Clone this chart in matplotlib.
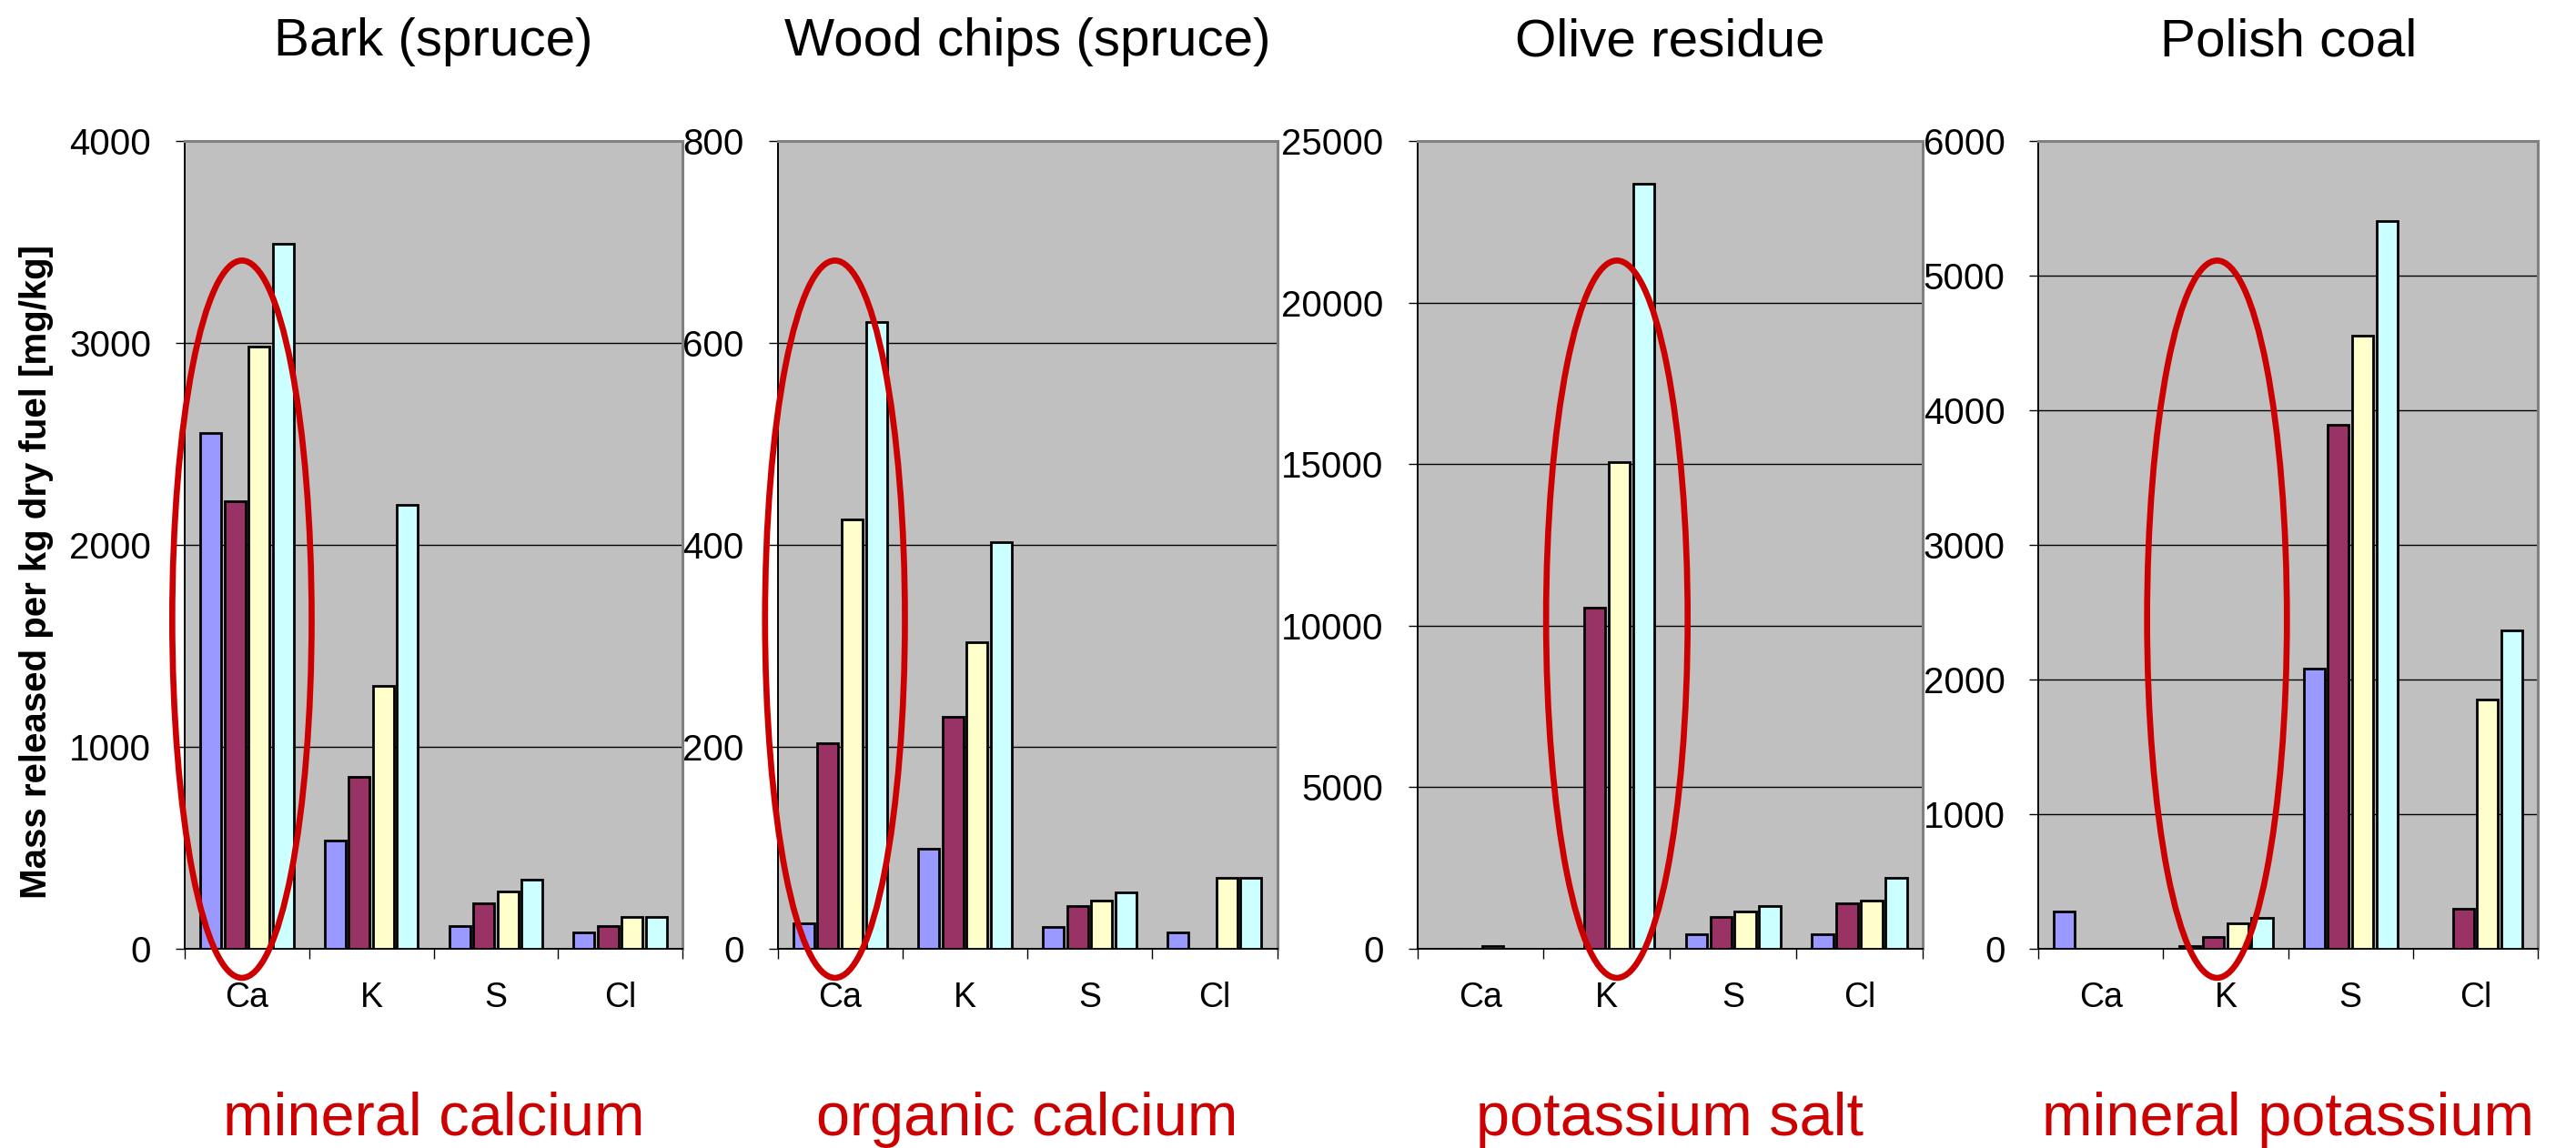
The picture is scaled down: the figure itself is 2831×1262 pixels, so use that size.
import numpy as np
import matplotlib.pyplot as plt
from matplotlib.patches import Ellipse

plt.rcParams['font.family'] = ['Liberation Sans', 'DejaVu Sans']

elements = ['Ca', 'K', 'S', 'Cl']
fuels = ['Bark (spruce)', 'Wood chips (spruce)', 'Olive residue', 'Polish coal']
notes = ['mineral calcium', 'organic calcium', 'potassium salt', 'mineral potassium']
y_max = [4000, 800, 25000, 6000]
y_step = [1000, 200, 5000, 1000]
circled = ['Ca', 'Ca', 'K', 'K']

# rows = the four series, columns = Ca, K, S, Cl  [mg/kg dry fuel]
bark = [[2554, 537, 112, 82],
        [2215, 851, 226, 112],
        [2980, 1304, 284, 156],
        [3490, 2196, 341, 156]]
wood_chips = [[25, 99, 22, 16],
              [204, 230, 42, 0],
              [425, 304, 48, 70],
              [621, 403, 56, 70]]
olive = [[0, 0, 443, 443],
         [0, 10556, 972, 1415],
         [85, 15075, 1143, 1500],
         [0, 23670, 1330, 2200]]
coal = [[274, 20, 2083, 0],
        [0, 86, 3892, 295],
        [0, 188, 4551, 1854],
        [0, 233, 5407, 2362]]
data = [bark, wood_chips, olive, coal]

colors = ['#9999FF', '#993366', '#FFFFCC', '#CCFFFF']

W, H = 2831, 1262
fig = plt.figure(figsize=(W / 100, H / 100), dpi=100)

lefts = [203, 854.5, 1557.5, 2240.3]
widths = [547, 549, 555.5, 548.7]
top, bottom = 155, 1043
ell_shift = [-0.04, -0.04, 0.08, -0.07]

x = np.arange(len(elements))
step, bw = 0.194, 0.168

for i in range(4):
    ax = fig.add_axes([lefts[i] / W, (H - bottom) / H, widths[i] / W, (bottom - top) / H])
    ax.set_facecolor('#C0C0C0')
    ax.set_axisbelow(True)

    for s, vals in enumerate(data[i]):
        ax.bar(x + (s - 1.5) * step, vals, width=bw, color=colors[s],
               edgecolor='black', linewidth=2.0, zorder=3)

    ax.set_xlim(-0.5, 3.5)
    ax.set_ylim(0, y_max[i])
    ax.set_yticks(np.arange(0, y_max[i] + 1, y_step[i]))
    ax.yaxis.grid(True, color='black', linewidth=1.0)

    ax.set_xticks(x)
    ax.set_xticklabels(elements)
    ax.set_xticks(np.arange(-0.5, 4, 1), minor=True)
    ax.tick_params(axis='x', which='major', length=0, pad=26, labelsize=27)
    ax.tick_params(axis='x', which='minor', length=8, width=1)
    ax.tick_params(axis='y', length=7.5, width=1, pad=19, labelsize=29)

    for side in ['top', 'right']:
        ax.spines[side].set_color('#808080')
        ax.spines[side].set_linewidth(2.2)
    for side in ['left', 'bottom']:
        ax.spines[side].set_color('black')
        ax.spines[side].set_linewidth(1.4)

    # red ring round the element of interest
    cx = elements.index(circled[i]) + ell_shift[i]
    ring = Ellipse((cx, 0.408 * y_max[i]), 1.12, 0.888 * y_max[i], fill=False,
                   edgecolor='#CC0000', linewidth=4.8, zorder=5, clip_on=False)
    ax.add_patch(ring)

    xc = (lefts[i] + widths[i] / 2) / W
    fig.text(xc, (H - 61) / H, fuels[i], ha='center', va='baseline', fontsize=42)
    fig.text(xc, (H - 1248) / H, notes[i], ha='center', va='baseline',
             fontsize=48, color='#CC0000')

fig.text(40 / W, (H - 628) / H, 'Mass released per kg dry fuel [mg/kg]',
         rotation=90, ha='center', va='center', fontsize=29, fontweight='bold')

fig.savefig('out.png', dpi=100)
